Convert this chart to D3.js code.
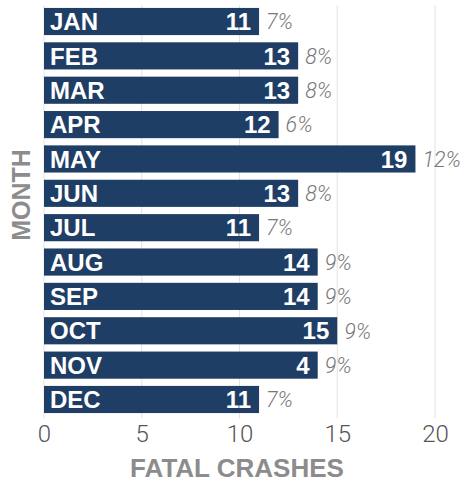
<!DOCTYPE html>
<html>
<head>
<meta charset="utf-8">
<script src="https://cdn.jsdelivr.net/npm/d3@7"></script>
<style>
  html, body { margin: 0; padding: 0; background: #fff; }
  svg { display: block; }
</style>
</head>
<body>
<svg id="chart" width="463" height="483"></svg>
<script>
const months = ["JAN","FEB","MAR","APR","MAY","JUN","JUL","AUG","SEP","OCT","NOV","DEC"];
const crashes = [11, 13, 13, 12, 19, 13, 11, 14, 14, 15, 14, 11];
const valueLabels = ["11","13","13","12","19","13","11","14","14","15","4","11"];
const percents = ["7%","8%","8%","6%","12%","8%","7%","9%","9%","9%","9%","7%"];
const xTicks = [0, 5, 10, 15, 20];

const svg = d3.select("#chart");

const x = d3.scaleLinear().domain([0, 20]).range([44, 435]);
const y = d3.scaleBand().domain(months).range([4.5, 416.5]).paddingInner(0.21).paddingOuter(0.1);

// gridlines
svg.append("g").selectAll("line").data(xTicks).join("line")
  .attr("x1", d => x(d)).attr("x2", d => x(d))
  .attr("y1", 5).attr("y2", 418)
  .attr("stroke", "#e2e2e2").attr("stroke-width", 1);

// x axis tick labels
const xAxis = d3.axisBottom(x).tickValues(xTicks).tickSize(0).tickPadding(0);
const gx = svg.append("g").attr("transform", "translate(0,425)").call(xAxis);
gx.select(".domain").remove();
gx.selectAll("text")
  .attr("font-family", "Roboto, 'Liberation Sans', sans-serif")
  .attr("font-weight", 300)
  .attr("font-size", 24)
  .attr("fill", "#555")
  .attr("dy", "0.71em");

// bars
svg.append("g").selectAll("rect").data(months).join("rect")
  .attr("x", x(0))
  .attr("y", d => y(d))
  .attr("width", (d, i) => x(crashes[i]) - x(0))
  .attr("height", y.bandwidth())
  .attr("fill", "#1f3e66");

// month labels
svg.append("g").selectAll("text").data(months).join("text")
  .attr("x", x(0) + 6)
  .attr("y", d => y(d) + y.bandwidth() / 2)
  .attr("dy", "0.36em")
  .attr("font-family", "'Liberation Sans', Arial, sans-serif")
  .attr("font-weight", "bold")
  .attr("font-size", 24)
  .attr("fill", "#fff")
  .text(d => d);

// value labels
svg.append("g").selectAll("text").data(months).join("text")
  .attr("x", (d, i) => x(crashes[i]) - 8)
  .attr("y", d => y(d) + y.bandwidth() / 2)
  .attr("dy", "0.36em")
  .attr("text-anchor", "end")
  .attr("font-family", "'Liberation Sans', Arial, sans-serif")
  .attr("font-weight", "bold")
  .attr("font-size", 24)
  .attr("fill", "#fff")
  .text((d, i) => valueLabels[i]);

// percent labels
svg.append("g").selectAll("text").data(months).join("text")
  .attr("x", (d, i) => x(crashes[i]) + 7)
  .attr("y", d => y(d) + y.bandwidth() / 2)
  .attr("dy", "0.36em")
  .attr("font-family", "Roboto, 'Liberation Sans', sans-serif")
  .attr("font-weight", 300)
  .attr("font-style", "italic")
  .attr("font-size", 21.5)
  .attr("fill", "#777")
  .text((d, i) => percents[i]);

// axis titles
svg.append("text")
  .attr("x", 237).attr("y", 477)
  .attr("text-anchor", "middle")
  .attr("font-family", "'Liberation Sans', Arial, sans-serif")
  .attr("font-weight", "bold")
  .attr("font-size", 26)
  .attr("fill", "#8c8c8c")
  .text("FATAL CRASHES");

svg.append("text")
  .attr("transform", "translate(30,195) rotate(-90)")
  .attr("text-anchor", "middle")
  .attr("font-family", "'Liberation Sans', Arial, sans-serif")
  .attr("font-weight", "bold")
  .attr("font-size", 25)
  .attr("fill", "#8c8c8c")
  .text("MONTH");
</script>
</body>
</html>
